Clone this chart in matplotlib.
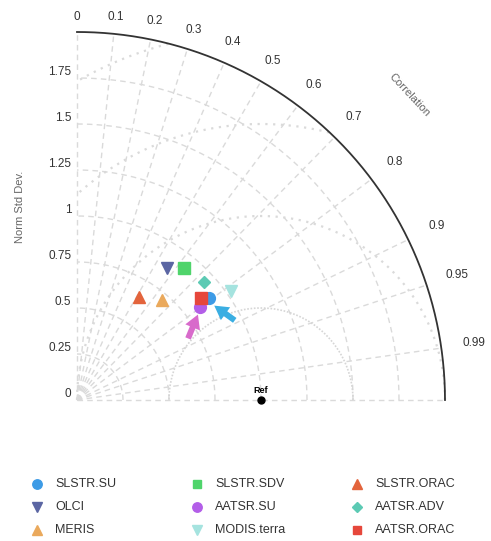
import numpy as np
import matplotlib.pyplot as plt
from matplotlib.lines import Line2D
from matplotlib.patches import FancyArrowPatch

plt.rcParams['font.family'] = ['Liberation Sans', 'DejaVu Sans']

# Taylor diagram data (normalised std dev, correlation)
names = ['SLSTR.SU', 'OLCI', 'MERIS', 'SLSTR.SDV', 'AATSR.SU', 'MODIS.terra',
         'SLSTR.ORAC', 'AATSR.ADV', 'AATSR.ORAC']
std_dev = [0.907, 0.868, 0.710, 0.925, 0.838, 1.024, 0.655, 0.941, 0.872]
corr = [0.793, 0.561, 0.648, 0.629, 0.799, 0.817, 0.514, 0.733, 0.773]
markers = ['o', 'v', '^', 's', 'o', 'v', '^', 'D', 's']
colors = ['#3d9be6', '#5b66a3', '#eaa95c', '#4fd46b', '#b35ee8', '#a5e3df',
          '#e3643c', '#5ccab4', '#e6473b']
msizes = [8.5, 8.5, 8.5, 8, 8.5, 8.5, 8.5, 6, 8]

corr_ticks = [0, 0.1, 0.2, 0.3, 0.4, 0.5, 0.6, 0.7, 0.8, 0.9, 0.95, 0.99]
std_ticks = [0, 0.25, 0.5, 0.75, 1, 1.25, 1.5, 1.75]
rms_levels = [0.5, 1.0, 1.5, 2.0]
ref_std = 1.0
max_std = 2.0

W, H = 491, 541
fig = plt.figure(figsize=(W / 100, H / 100), dpi=100)
ax = fig.add_axes([0, 0, 1, 1])
ax.set_xlim(-77 / 184, (W - 77) / 184)
ax.set_ylim(-(H - 400) / 184, 400 / 184)
ax.axis('off')

grid_c = '#dadada'

# std dev arcs (dashed)
th = np.linspace(0, np.pi / 2, 300)
for s in std_ticks[1:]:
    ax.plot(s * np.cos(th), s * np.sin(th), ls=(0, (4, 3)), color=grid_c, lw=1, zorder=1)

# correlation radial lines
for c in corr_ticks + [1.0]:
    a = np.arccos(c)
    ax.plot([0, max_std * np.cos(a)], [0, max_std * np.sin(a)], ls=(0, (4, 3)),
            color=grid_c, lw=1, zorder=1)

# RMS contours around the reference
phi = np.linspace(0, np.pi, 600)
for r in rms_levels:
    x = ref_std + r * np.cos(phi)
    y = r * np.sin(phi)
    mask = (np.hypot(x, y) > max_std) | (x < 0)
    x = np.where(mask, np.nan, x)
    y = np.where(mask, np.nan, y)
    if r == 0.5:
        ax.plot(x, y, ls=(0, (1, 1)), color='#d6d6d6', lw=1.2, zorder=1)
    else:
        ax.plot(x, y, ls=(0, (1, 2.5)), color=grid_c, lw=1.6, zorder=1)

# outer arc
ax.plot(max_std * np.cos(th), max_std * np.sin(th), color='#333333', lw=1.3, zorder=2)

# correlation tick labels
for c in corr_ticks:
    a = np.arccos(c)
    r = 2.08 + 0.1 * c
    ax.text(r * np.cos(a), r * np.sin(a), ('%g' % c), ha='center', va='center',
            fontsize=8.5, color='#333333')

# std dev tick labels
for s in std_ticks:
    ax.text(-0.03, s + 0.032, ('%g' % s), ha='right', va='center', fontsize=8.5,
            color='#333333')

ax.text(-0.31, 1.05, 'Norm Std Dev.', rotation=90, ha='center', va='center',
        fontsize=8, color='#666666')
ca = np.arccos(0.737)
ax.text(2.45 * np.cos(ca), 2.45 * np.sin(ca), 'Correlation', rotation=-47,
        ha='center', va='center', fontsize=8, color='#666666')

# reference point
ax.plot([ref_std], [0], 'o', color='black', ms=5, zorder=4)
ax.text(ref_std, 0.025, 'Ref', ha='center', va='bottom', fontsize=6.5,
        fontweight='bold', color='black')

# model points
for n, s, c, m, col, ms in zip(names, std_dev, corr, markers, colors, msizes):
    a = np.arccos(c)
    ax.plot(s * np.cos(a), s * np.sin(a), marker=m, color=col, ms=ms, ls='none',
            label=n, zorder=5)

# highlight arrows
arrow_style = 'simple,head_width=1.2,head_length=1.05,tail_width=0.45'
ax.add_patch(FancyArrowPatch(((187 - 77) / 184, (400 - 341) / 184),
                             ((199 - 77) / 184, (400 - 312) / 184),
                             arrowstyle=arrow_style, mutation_scale=9.5,
                             color='#d86bcb', lw=0, zorder=6))
ax.add_patch(FancyArrowPatch(((237 - 77) / 184, (400 - 322) / 184),
                             ((212 - 77) / 184, (400 - 304) / 184),
                             arrowstyle=arrow_style, mutation_scale=9.5,
                             color='#3aaee2', lw=0, zorder=6))

# legend (3 columns x 3 rows, laid out by hand)
col_x = [37, 197, 357]
row_y = [484, 507, 530]
for i, (n, m, col, ms) in enumerate(zip(names, markers, colors, msizes)):
    cx = col_x[i // 3] / W
    cy = 1 - row_y[i % 3] / H
    fig.add_artist(Line2D([cx], [cy], marker=m, color=col, ms=ms * 0.8, ls='none',
                          transform=fig.transFigure))
    fig.text(cx + 18 / W, cy, n, ha='left', va='center', fontsize=9,
             color='#333333')

fig.savefig('out.png', dpi=100, facecolor='white')
